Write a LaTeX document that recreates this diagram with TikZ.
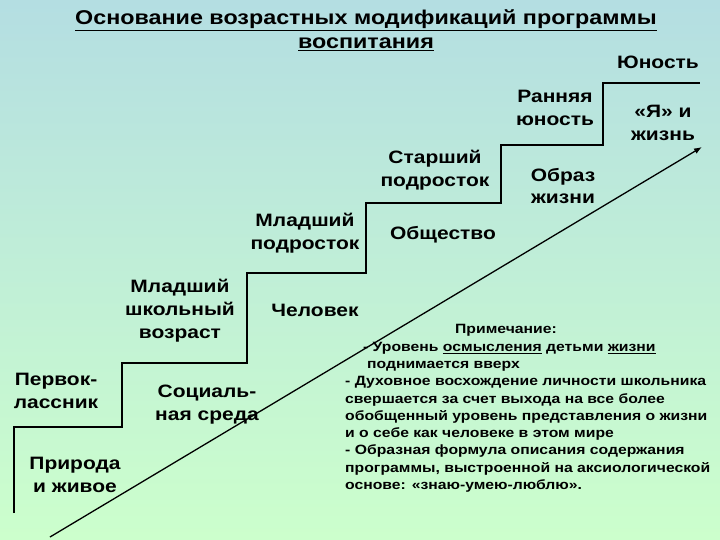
\documentclass[tikz,border=0pt]{standalone}
\usepackage{fontspec}
\setmainfont{Liberation Sans}[FakeStretch=1.17]
\usetikzlibrary{arrows.meta}
\definecolor{topblue}{RGB}{180,222,226}
\definecolor{lowgreen}{RGB}{204,255,204}

\tikzset{
  stage/.style={inner sep=0pt, align=center, font=\fontsize{18}{23}\selectfont\bfseries},
  notetext/.style={inner sep=0pt, align=left, font=\fontsize{13.5}{17.3}\selectfont\bfseries}
}

\begin{document}
\begin{tikzpicture}[x=1bp, y=-1bp]
  \shade[top color=topblue, bottom color=lowgreen] (0,0) rectangle (720,540);
  \useasboundingbox (0,0) rectangle (720,540);
  % title
  \node[stage, font=\fontsize{20}{24}\selectfont\bfseries] (title) at (366,30)
    {\underline{Основание возрастных модификаций программы}\\\underline{воспитания}};
  % staircase
  \draw[line width=1.6bp] (14,513) -- (14,427) -- (122,427) -- (122,363) -- (247,363)
    -- (247,273) -- (366,273) -- (366,203) -- (501,203) -- (501,145)
    -- (603,145) -- (603,83) -- (700,83);
  % ages on the steps
  \node[stage] (pervok) at (56,391) {Первок-\\лассник};
  \node[stage] (mlshk) at (180,311) {Младший\\школьный\\возраст};
  \node[stage] (mlpodr) at (305,233) {Младший\\подросток};
  \node[stage] (stpodr) at (435,170) {Старший\\подросток};
  \node[stage] (rann) at (555,108) {Ранняя\\юность};
  \node[stage] (yun) at (658,62) {Юность};
  % content of each step
  \node[stage] (prir) at (75,475) {Природа\\и живое};
  \node[stage] (soc) at (207,405) {Социаль-\\ная среда};
  \node[stage] (chel) at (315,310) {Человек};
  \node[stage] (obsh) at (443,235) {Общество};
  \node[stage] (obraz) at (563,186) {Образ\\жизни};
  \node[stage] (yaj) at (663,123) {«Я» и\\жизнь};
  % rising line
  \coordinate (low) at (50,537);
  \coordinate (high) at (702,147);
  \draw[line width=1.3bp, -{Latex[length=8pt,width=6pt]}] (low) -- (high);
  % note
  \node[notetext] (notehead) at (506,330) {Примечание:};
  \node[notetext, anchor=north west] (note) at (345,342)
    {\hspace*{18pt}- Уровень \underline{осмысления} детьми \underline{жизни}\\
     \hspace*{22pt}поднимается вверх\\
     - Духовное восхождение личности школьника\\
     свершается за счет выхода на все более\\
     обобщенный уровень представления о жизни\\
     и о себе как человеке в этом мире\\
     - Образная формула описания содержания\\
     программы, выстроенной на аксиологической\\
     основе: «знаю-умею-люблю».};
\end{tikzpicture}
\end{document}
